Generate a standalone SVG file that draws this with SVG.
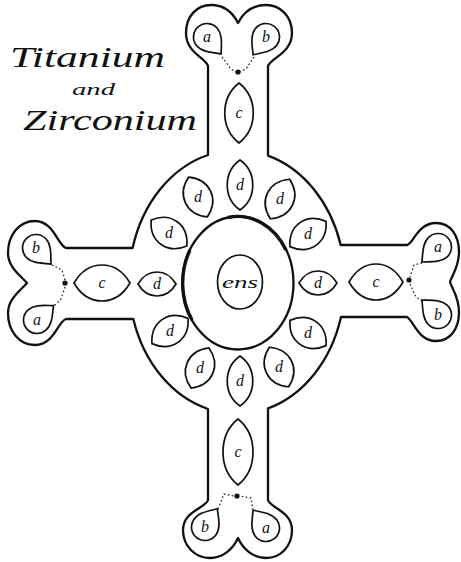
<svg xmlns="http://www.w3.org/2000/svg" width="461" height="562" viewBox="0 0 461 562">
<style>
.o{fill:none;stroke:#111;stroke-width:2.3;stroke-linejoin:round}
.s{fill:none;stroke:#111;stroke-width:1.7}
.thick{fill:none;stroke:#111;stroke-width:3.4}
.dot{fill:#111}
.dash{fill:none;stroke:#222;stroke-width:1.3;stroke-dasharray:1.6 2.4}
.lbl{font-family:"Liberation Serif",serif;font-style:italic;font-size:16px;text-anchor:middle;fill:#111}
.title{font-family:"Liberation Serif",serif;font-style:italic;fill:#111}
</style>
<defs>
<path id="dV" class="s" d="M0,-25 C17,-13 17,13 0,25 C-17,13 -17,-13 0,-25Z"/>
<path id="dD" class="s" d="M0,-22 C18.5,-11 18.5,11 0,22 C-18.5,11 -18.5,-11 0,-22Z"/>
<path id="dH" class="s" d="M-19,0 C-9.5,-16 9.5,-16 19,0 C9.5,16 -9.5,16 -19,0Z"/>
<path id="drop" class="s" d="M0,22 C-5,16 -13.5,9 -13.5,0 A13.5,13.5 0 1 1 13.5,0 C13.5,9 5,16 0,22Z"/>
</defs>

<g id="title">
<text class="title" x="10" y="67" font-size="30" textLength="155" lengthAdjust="spacingAndGlyphs">Titanium</text>
<text class="title" x="72" y="95" font-size="17" textLength="43" lengthAdjust="spacingAndGlyphs">and</text>
<text class="title" x="23" y="130" font-size="30" textLength="174" lengthAdjust="spacingAndGlyphs">Zirconium</text>
</g>

<g id="outline">
<path class="o" d="M208,155 L208,66 C206,58 186,53 186,33 C186,16 197,5 211,5 C224,5 233,13 238,23 C243,13 252,5 266,5 C280,5 292,16 292,33 C292,53 271,58 268,66 L268,155.6 A108,132 0 0 1 340.7,245 L407,245 C413,244 418,223 436,223 C451,223 459,236 459,252 C459,267 452,275 450,282 C452,289 459,297 459,312 C459,328 451,341 436,341 C418,341 413,320 407,317 L341,317 A108,132 0 0 1 268,408.4 L268,500 C270,508 292,511 292,530 C292,546 281,558 266,558 C253,558 243,549 238,538 C233,549 223,558 210,558 C195,558 183,546 183,530 C183,511 206,508 208,500 L208,409 A108,132 0 0 1 133.3,319 L66,319 C58,321 54,345 35,345 C19,345 8,331 8,313 C8,299 20,291 27,283 C20,275 8,267 8,253 C8,235 19,221 35,221 C54,221 58,246 66,248 L132.6,248 A108,132 0 0 1 208,155Z"/>
</g>

<g id="core">
<ellipse class="o" cx="238" cy="283" rx="55.5" ry="66.5"/>
<path class="thick" d="M190,250 A55.5,66.5 0 0 0 192,320"/>
<path class="thick" d="M228,217.5 A55.5,66.5 0 0 1 286,250"/>
</g>
<g id="ens">
<ellipse class="s" cx="240" cy="282" rx="22.5" ry="27"/>
<text class="lbl" x="240" y="288" textLength="36" lengthAdjust="spacingAndGlyphs">ens</text>
</g>

<g id="c-top"><path class="s" d="M239,83 C258,98 258,128 239,143 C220,128 220,98 239,83Z"/><text class="lbl" x="239" y="118">c</text></g>
<g id="c-bottom"><path class="s" d="M238,419 C258,435 258,469 238,485 C218,469 218,435 238,419Z"/><text class="lbl" x="238" y="457">c</text></g>
<g id="c-left"><path class="s" d="M74,283 C88,259 116,259 130,283 C116,307 88,307 74,283Z"/><text class="lbl" x="102" y="288">c</text></g>
<g id="c-right"><path class="s" d="M349,282 C363,258 389,258 403,282 C389,306 363,306 349,282Z"/><text class="lbl" x="376" y="287">c</text></g>

<g id="d-top"><use href="#dV" transform="translate(240,185)"/><text class="lbl" x="240" y="190">d</text></g>
<g id="d-bottom"><use href="#dV" transform="translate(240,381)"/><text class="lbl" x="240" y="386">d</text></g>
<g id="d-topleft"><use href="#dD" transform="translate(198,197) rotate(-25)"/><text class="lbl" x="198" y="202">d</text></g>
<g id="d-topright"><use href="#dD" transform="translate(280,199) rotate(26)"/><text class="lbl" x="280" y="204">d</text></g>
<g id="d-upperleft"><use href="#dD" transform="translate(169,233) rotate(-54)"/><text class="lbl" x="169" y="238">d</text></g>
<g id="d-upperright"><use href="#dD" transform="translate(308,234) rotate(55)"/><text class="lbl" x="308" y="239">d</text></g>
<g id="d-lowerleft"><use href="#dD" transform="translate(170,331) rotate(55)"/><text class="lbl" x="170" y="336">d</text></g>
<g id="d-lowerright"><use href="#dD" transform="translate(308,333) rotate(-55)"/><text class="lbl" x="308" y="338">d</text></g>
<g id="d-bottomleft"><use href="#dD" transform="translate(200,368) rotate(24)"/><text class="lbl" x="200" y="373">d</text></g>
<g id="d-bottomright"><use href="#dD" transform="translate(279,367) rotate(-26)"/><text class="lbl" x="279" y="372">d</text></g>
<g id="d-left"><use href="#dH" transform="translate(157,284)"/><text class="lbl" x="157" y="289">d</text></g>
<g id="d-right"><use href="#dH" transform="translate(318,283)"/><text class="lbl" x="318" y="288">d</text></g>

<g id="a-top"><use href="#drop" transform="translate(207,37) rotate(-40)"/><text class="lbl" x="207" y="42">a</text></g>
<g id="b-top"><use href="#drop" transform="translate(266,37) rotate(36)"/><text class="lbl" x="266" y="42">b</text></g>
<g id="b-left"><use href="#drop" transform="translate(36,248) rotate(-43)"/><text class="lbl" x="36" y="253">b</text></g>
<g id="a-left"><use href="#drop" transform="translate(37,320) rotate(-131)"/><text class="lbl" x="37" y="325">a</text></g>
<g id="a-right"><use href="#drop" transform="translate(438,247) rotate(47)"/><text class="lbl" x="438" y="252">a</text></g>
<g id="b-right"><use href="#drop" transform="translate(438,315) rotate(133)"/><text class="lbl" x="438" y="320">b</text></g>
<g id="b-bottom"><use href="#drop" transform="translate(205,527) rotate(-146)"/><text class="lbl" x="205" y="532">b</text></g>
<g id="a-bottom"><use href="#drop" transform="translate(266,528) rotate(144)"/><text class="lbl" x="266" y="533">a</text></g>

<g id="dot-top"><circle class="dot" cx="238" cy="72" r="2.6"/></g>
<g id="dot-left"><circle class="dot" cx="65" cy="283" r="2.6"/></g>
<g id="dot-right"><circle class="dot" cx="409" cy="280" r="2.6"/></g>
<g id="dot-bottom"><circle class="dot" cx="237" cy="496" r="2.6"/></g>

<g id="connectors">
<path class="dash" d="M222,57 L231,69 L236,72"/>
<path class="dash" d="M254,57 L246,69 L240,72"/>
<path class="dash" d="M52,265 L62,270 L65,280"/>
<path class="dash" d="M65,287 L61,299 L54,306"/>
<path class="dash" d="M422,263 L414,265 L410,277"/>
<path class="dash" d="M410,284 L416,297 L422,301"/>
<path class="dash" d="M218,509 L224,494 L234,496"/>
<path class="dash" d="M253,510 L251,498 L240,496"/>
</g>
</svg>
